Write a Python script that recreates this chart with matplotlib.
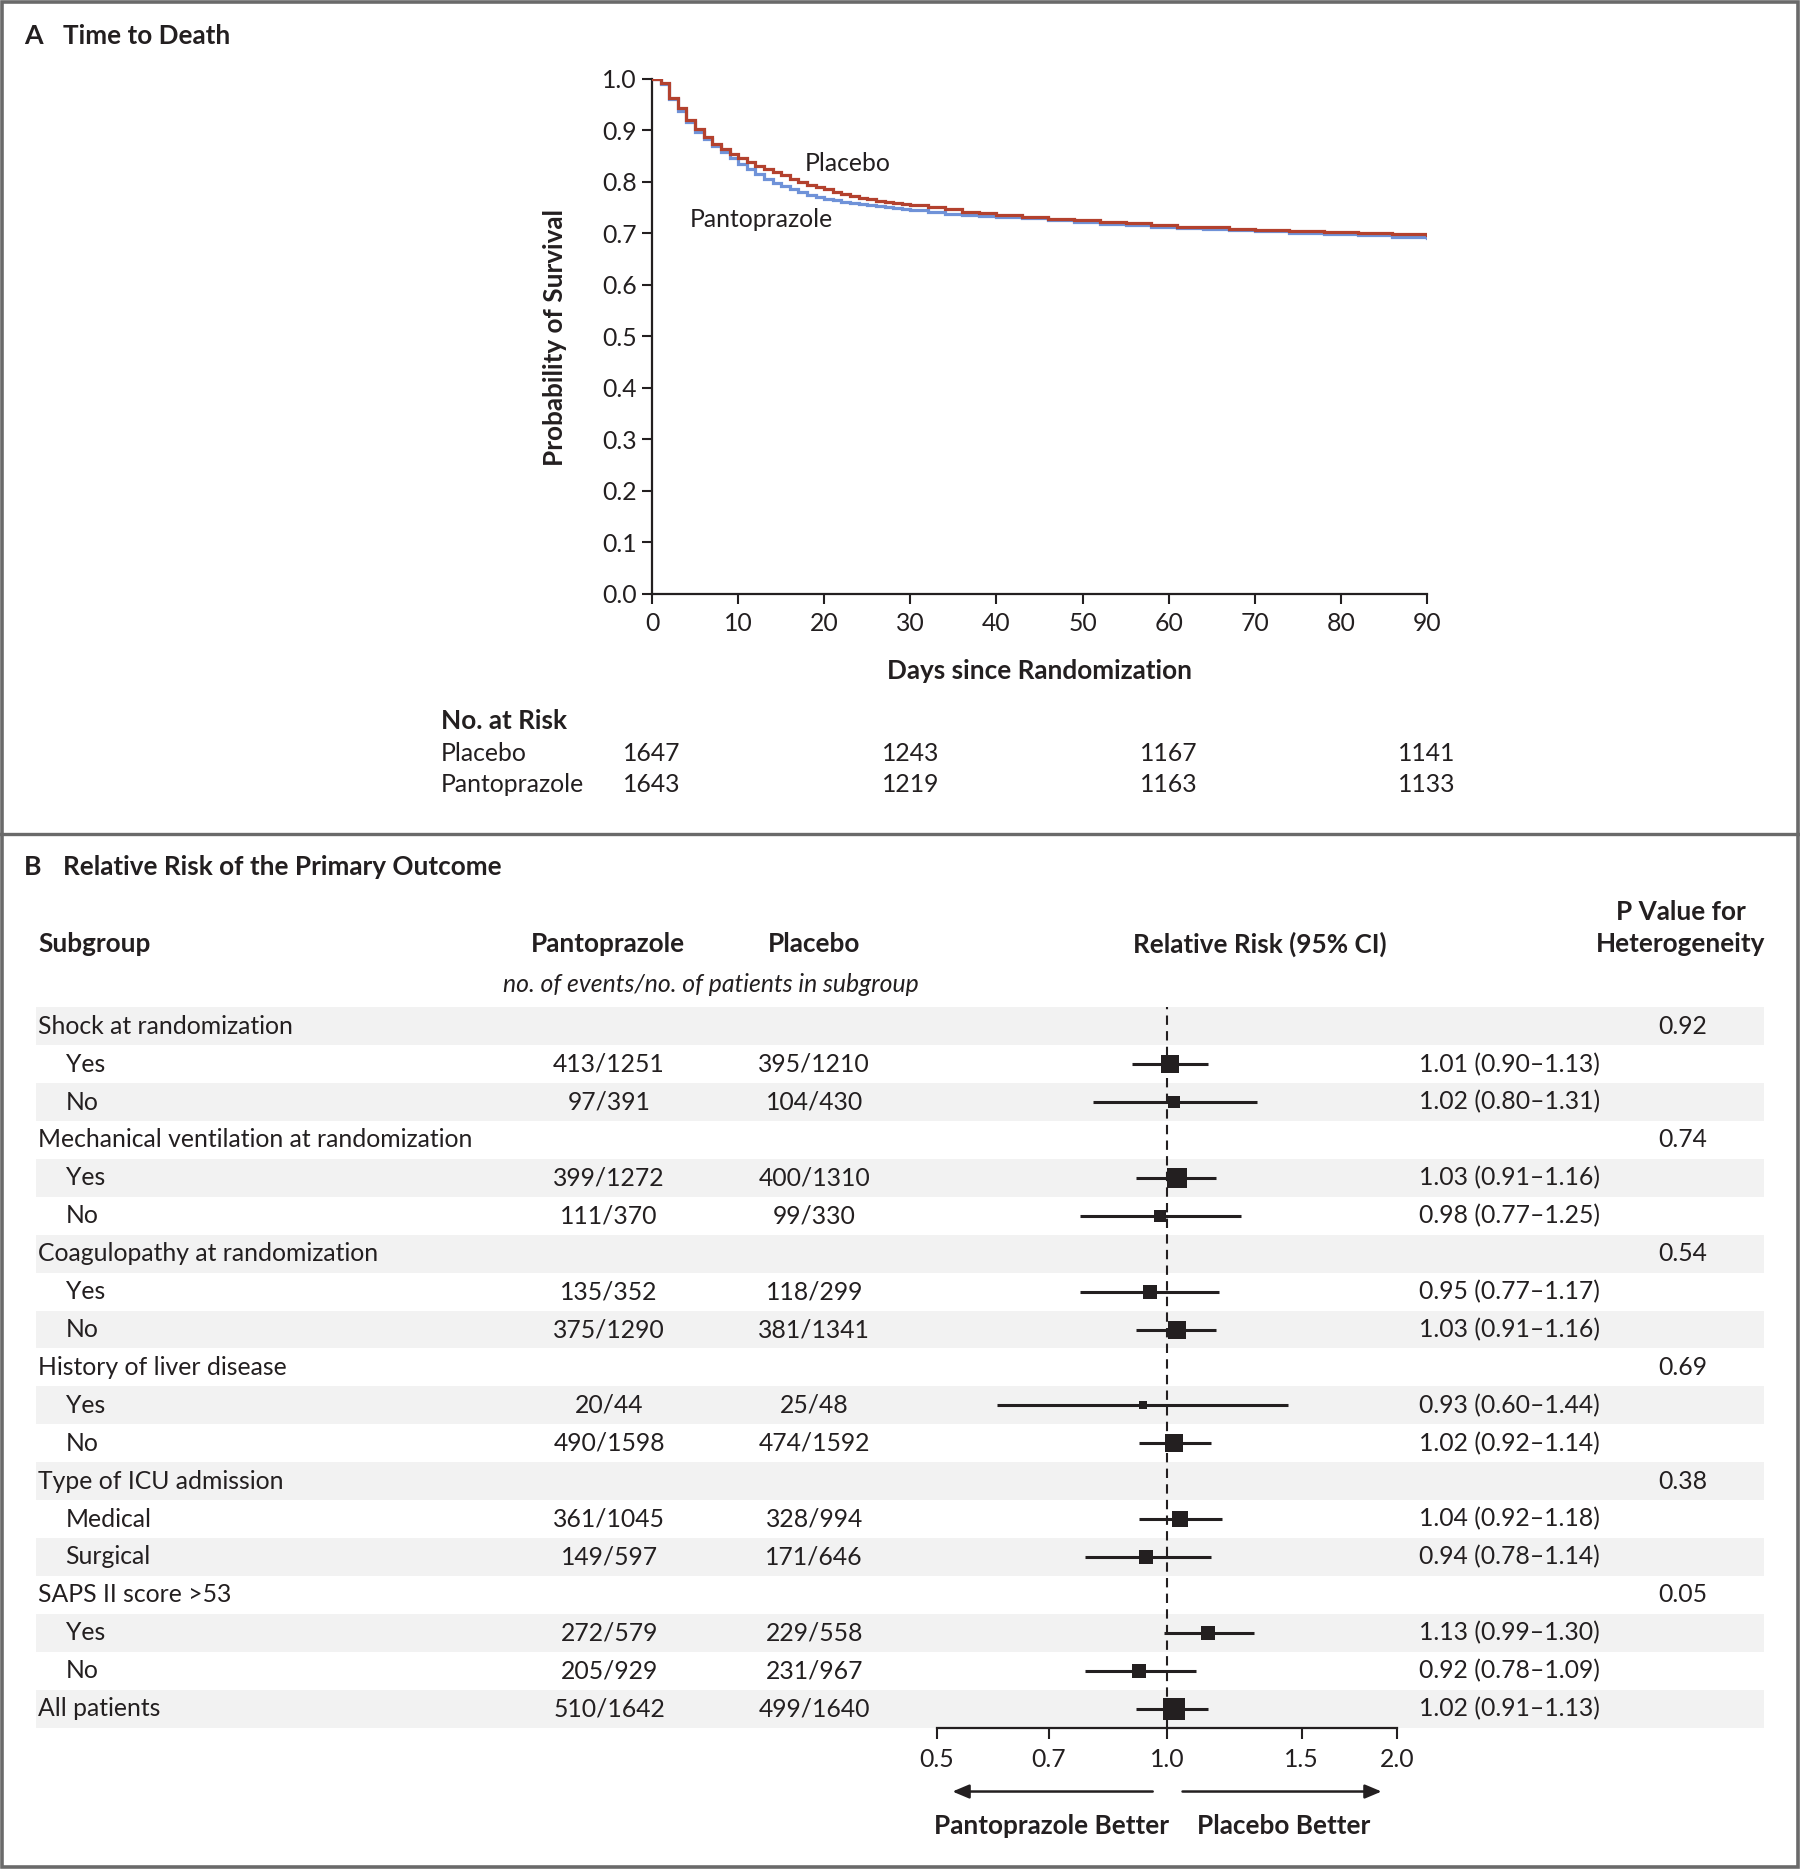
import matplotlib
matplotlib.use("Agg")
import matplotlib.pyplot as plt
from matplotlib.patches import Rectangle, FancyArrowPatch
from matplotlib.lines import Line2D
from matplotlib.transforms import blended_transform_factory
import numpy as np

plt.rcParams['font.family'] = ['Lato', 'DejaVu Sans']

# ---------------- Data: Panel A (Kaplan-Meier) ----------------
km_days = [0, 1, 2, 3, 4, 5, 6, 7, 8, 9, 10, 11, 12, 13, 14, 15, 16, 17, 18, 19,
           20, 21, 22, 23, 24, 25, 26, 27, 28, 29, 30, 32, 34, 36, 38, 40, 43, 46,
           49, 52, 55, 58, 61, 64, 67, 70, 74, 78, 82, 86, 90]
placebo_surv = [1.000, 0.992, 0.963, 0.944, 0.920, 0.902, 0.887, 0.874, 0.863, 0.853,
                0.845, 0.838, 0.831, 0.824, 0.818, 0.812, 0.806, 0.800, 0.794, 0.789,
                0.785, 0.780, 0.776, 0.772, 0.769, 0.766, 0.763, 0.760, 0.758, 0.756,
                0.754, 0.750, 0.746, 0.742, 0.739, 0.736, 0.732, 0.728, 0.725, 0.722,
                0.719, 0.715, 0.712, 0.711, 0.709, 0.707, 0.704, 0.702, 0.701, 0.699, 0.697]
panto_surv = [1.000, 0.990, 0.960, 0.938, 0.915, 0.897, 0.882, 0.869, 0.857, 0.846,
              0.835, 0.825, 0.815, 0.806, 0.798, 0.791, 0.785, 0.780, 0.775, 0.771,
              0.767, 0.764, 0.761, 0.758, 0.756, 0.754, 0.752, 0.750, 0.748, 0.746,
              0.744, 0.741, 0.738, 0.736, 0.734, 0.732, 0.729, 0.725, 0.721, 0.718,
              0.715, 0.712, 0.710, 0.708, 0.706, 0.704, 0.701, 0.698, 0.696, 0.693, 0.691]
risk_days = [0, 30, 60, 90]
risk_placebo = [1647, 1243, 1167, 1141]
risk_panto = [1643, 1219, 1163, 1133]
x_ticks = [0, 10, 20, 30, 40, 50, 60, 70, 80, 90]
y_ticks = [0.0, 0.1, 0.2, 0.3, 0.4, 0.5, 0.6, 0.7, 0.8, 0.9, 1.0]

# ---------------- Data: Panel B (forest plot) ----------------
subgroups = ["Shock at randomization", "Yes", "No",
             "Mechanical ventilation at randomization", "Yes", "No",
             "Coagulopathy at randomization", "Yes", "No",
             "History of liver disease", "Yes", "No",
             "Type of ICU admission", "Medical", "Surgical",
             "SAPS II score >53", "Yes", "No",
             "All patients"]
is_top = [True, False, False, True, False, False, True, False, False,
          True, False, False, True, False, False, True, False, False, True]
panto_counts = [None, "413/1251", "97/391", None, "399/1272", "111/370",
                None, "135/352", "375/1290", None, "20/44", "490/1598",
                None, "361/1045", "149/597", None, "272/579", "205/929", "510/1642"]
placebo_counts = [None, "395/1210", "104/430", None, "400/1310", "99/330",
                  None, "118/299", "381/1341", None, "25/48", "474/1592",
                  None, "328/994", "171/646", None, "229/558", "231/967", "499/1640"]
rr = [None, 1.01, 1.02, None, 1.03, 0.98, None, 0.95, 1.03, None, 0.93, 1.02,
      None, 1.04, 0.94, None, 1.13, 0.92, 1.02]
rr_lo = [None, 0.90, 0.80, None, 0.91, 0.77, None, 0.77, 0.91, None, 0.60, 0.92,
         None, 0.92, 0.78, None, 0.99, 0.78, 0.91]
rr_hi = [None, 1.13, 1.31, None, 1.16, 1.25, None, 1.17, 1.16, None, 1.44, 1.14,
         None, 1.18, 1.14, None, 1.30, 1.09, 1.13]
p_het = ["0.92", None, None, "0.74", None, None, "0.54", None, None, "0.69",
         None, None, "0.38", None, None, "0.05", None, None, None]
forest_ticks = [0.5, 0.7, 1.0, 1.5, 2.0]
forest_ticklabels = ["0.5", "0.7", "1.0", "1.5", "2.0"]

# ---------------- Style ----------------
W, H = 1510.0, 1568.0          # layout reference units
def FX(x): return x / W
def FY(y): return 1 - y / H
PX = 1800 / 1510.0 * 0.72      # layout px -> points
FS = 17.8
FSB = 18.8
TXT = '#231F20'
RED = '#B3412E'
BLUE = '#6F92D8'
BAND = '#F2F2F2'
BORDER = '#6A6A6A'
box_px = [None, 15.5, 10, None, 16, 9.5, None, 11, 14.5, None, 6.5, 15.5,
          None, 14, 11.5, None, 12, 12, 18]

fig = plt.figure(figsize=(18, 18.69), dpi=100)
fig.patch.set_facecolor('white')

# ---------------- Panel A ----------------
axA = fig.add_axes([FX(547), FY(498), FX(1197) - FX(547), FY(66) - FY(498)])
axA.step(km_days, placebo_surv, where='post', color=RED, lw=2.3, zorder=3,
         solid_joinstyle='miter')
axA.step(km_days, panto_surv, where='post', color=BLUE, lw=2.3, zorder=2,
         solid_joinstyle='miter')
axA.set_xlim(0, 90)
axA.set_ylim(0, 1.0)
axA.set_xticks(x_ticks)
axA.set_yticks(y_ticks)
axA.set_yticklabels([f"{v:.1f}" for v in y_ticks])
for s in ['top', 'right']:
    axA.spines[s].set_visible(False)
for s in ['left', 'bottom']:
    axA.spines[s].set_linewidth(1.6)
    axA.spines[s].set_color(TXT)
axA.tick_params(axis='both', direction='out', length=7, width=1.5, colors=TXT,
                labelsize=FS, pad=4)
axA.tick_params(axis='x', pad=6)
axA.set_facecolor('none')
axA.text(17.7, 0.836, "Placebo", fontsize=FS, color=TXT, ha='left', va='center')
axA.text(4.4, 0.727, "Pantoprazole", fontsize=FS, color=TXT, ha='left', va='center')

fig.text(FX(466), FY(283), "Probability of Survival", rotation=90, fontsize=FSB,
         fontweight='bold', color=TXT, ha='center', va='center')
fig.text(FX(872), FY(563), "Days since Randomization", fontsize=FSB,
         fontweight='bold', color=TXT, ha='center', va='center')

fig.text(FX(370), FY(605), "No. at Risk", fontsize=FSB, fontweight='bold',
         color=TXT, ha='left', va='center')
fig.text(FX(370), FY(632), "Placebo", fontsize=FS, color=TXT, ha='left', va='center')
fig.text(FX(370), FY(658), "Pantoprazole", fontsize=FS, color=TXT, ha='left', va='center')
trA = blended_transform_factory(axA.transData, fig.transFigure)
for d, a, b in zip(risk_days, risk_placebo, risk_panto):
    fig.text(d, FY(632), str(a), transform=trA, fontsize=FS, color=TXT,
             ha='center', va='center')
    fig.text(d, FY(658), str(b), transform=trA, fontsize=FS, color=TXT,
             ha='center', va='center')

fig.text(FX(20), FY(30), "A", fontsize=FSB + 0.5, fontweight='bold', color=TXT,
         ha='left', va='center')
fig.text(FX(53), FY(30), "Time to Death", fontsize=FSB, fontweight='bold',
         color=TXT, ha='left', va='center')

# ---------------- Panel B ----------------
fig.text(FX(20), FY(727), "B", fontsize=FSB + 0.5, fontweight='bold', color=TXT,
         ha='left', va='center')
fig.text(FX(53), FY(727), "Relative Risk of the Primary Outcome", fontsize=FSB,
         fontweight='bold', color=TXT, ha='left', va='center')

fig.text(FX(32), FY(792), "Subgroup", fontsize=FSB, fontweight='bold', color=TXT,
         ha='left', va='center')
fig.text(FX(510), FY(792), "Pantoprazole", fontsize=FSB, fontweight='bold',
         color=TXT, ha='center', va='center')
fig.text(FX(683), FY(792), "Placebo", fontsize=FSB, fontweight='bold', color=TXT,
         ha='center', va='center')
fig.text(FX(1057), FY(792), "Relative Risk (95% CI)", fontsize=FSB,
         fontweight='bold', color=TXT, ha='center', va='center')
fig.text(FX(1410), FY(765), "P Value for", fontsize=FSB, fontweight='bold',
         color=TXT, ha='center', va='center')
fig.text(FX(1410), FY(792), "Heterogeneity", fontsize=FSB, fontweight='bold',
         color=TXT, ha='center', va='center')
fig.text(FX(596), FY(826), "no. of events/no. of patients in subgroup",
         fontsize=FS, fontstyle='italic', color=TXT, ha='center', va='center')

row0, dy = 861.0, 31.8
nrows = len(subgroups)
for i in range(nrows):
    yc = row0 + i * dy
    if i % 2 == 0:
        fig.patches.append(Rectangle((FX(30), FY(yc + dy / 2)), FX(1480) - FX(30),
                                     dy / H, transform=fig.transFigure,
                                     facecolor=BAND, edgecolor='none', zorder=-5))
    fig.text(FX(32 if is_top[i] else 55), FY(yc), subgroups[i], fontsize=FS,
             color=TXT, ha='left', va='center')
    if panto_counts[i]:
        fig.text(FX(511), FY(yc), panto_counts[i], fontsize=FS, color=TXT,
                 ha='center', va='center')
    if placebo_counts[i]:
        fig.text(FX(683), FY(yc), placebo_counts[i], fontsize=FS, color=TXT,
                 ha='center', va='center')
    if rr[i] is not None:
        fig.text(FX(1190), FY(yc), f"{rr[i]:.2f} ({rr_lo[i]:.2f}\u2013{rr_hi[i]:.2f})",
                 fontsize=FS, color=TXT, ha='left', va='center')
    if p_het[i]:
        fig.text(FX(1412), FY(yc), p_het[i], fontsize=FS, color=TXT,
                 ha='center', va='center')

axB = fig.add_axes([FX(786), FY(1450), FX(1172) - FX(786), FY(845) - FY(1450)])
axB.set_zorder(2)
axB.set_facecolor('none')
axB.set_xscale('log')
axB.set_xlim(0.5, 2.0)
y_bot = (nrows - 1) + (1450 - (row0 + (nrows - 1) * dy)) / dy
y_top = -(row0 - 845) / dy
axB.set_ylim(y_bot, y_top)
axB.axvline(1.0, color=TXT, lw=1.5, ls=(0, (4.5, 3)), zorder=1)
for i in range(nrows):
    if rr[i] is None:
        continue
    axB.plot([rr_lo[i], rr_hi[i]], [i, i], color=TXT, lw=2.2, solid_capstyle='butt',
             zorder=2, clip_on=False)
    axB.plot([rr[i]], [i], marker='s', color=TXT, markersize=box_px[i] * PX,
             markeredgewidth=0, zorder=3, clip_on=False)
axB.set_xticks(forest_ticks)
axB.set_xticklabels(forest_ticklabels)
axB.minorticks_off()
axB.set_yticks([])
for s in ['top', 'right', 'left']:
    axB.spines[s].set_visible(False)
axB.spines['bottom'].set_linewidth(1.6)
axB.spines['bottom'].set_color(TXT)
axB.tick_params(axis='x', direction='out', length=8, width=1.5, colors=TXT,
                labelsize=FS, pad=6)

# arrows
arrow_kw = dict(arrowstyle='-|>,head_length=1.0,head_width=0.42', color=TXT, lw=1.8,
                shrinkA=0, shrinkB=0, mutation_scale=10)
fig.patches.append(FancyArrowPatch(
    (FX(967), FY(1503)), (FX(799), FY(1503)), transform=fig.transFigure, **arrow_kw))
fig.patches.append(FancyArrowPatch(
    (FX(992), FY(1503)), (FX(1159), FY(1503)), transform=fig.transFigure, **arrow_kw))
fig.text(FX(882), FY(1532), "Pantoprazole Better", fontsize=FSB, fontweight='bold',
         color=TXT, ha='center', va='center')
fig.text(FX(1077), FY(1532), "Placebo Better", fontsize=FSB, fontweight='bold',
         color=TXT, ha='center', va='center')

# borders
fig.patches.append(Rectangle((0.0012, 0.0012), 0.9976, 0.9976, transform=fig.transFigure,
                             facecolor='none', edgecolor=BORDER, lw=2.6, zorder=10))
fig.lines.append(Line2D([0, 1], [FY(700), FY(700)], transform=fig.transFigure,
                        color=BORDER, lw=2.4, zorder=10))

fig.savefig("out.png", dpi=100, facecolor='white')
